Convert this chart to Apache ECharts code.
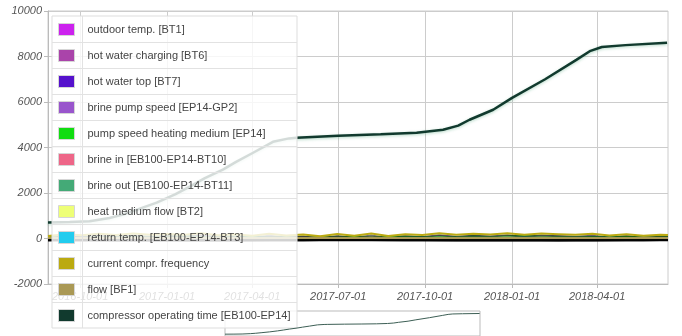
<!DOCTYPE html>
<html>
<head>
<meta charset="utf-8">
<script src="https://cdn.jsdelivr.net/npm/echarts@6/dist/echarts.min.js"></script>
<style>
html,body{margin:0;padding:0;background:#fff;}
#chart{width:682px;height:336px;}
</style>
</head>
<body>
<div id="chart"></div>
<script>
// ---- data ----
const seriesNames = [
  'outdoor temp. [BT1]',
  'hot water charging [BT6]',
  'hot water top [BT7]',
  'brine pump speed [EP14-GP2]',
  'pump speed heating medium [EP14]',
  'brine in [EB100-EP14-BT10]',
  'brine out [EB100-EP14-BT11]',
  'heat medium flow [BT2]',
  'return temp. [EB100-EP14-BT3]',
  'current compr. frequency',
  'flow [BF1]',
  'compressor operating time [EB100-EP14]'
];
const seriesColors = ['#cc22ee','#aa44aa','#5511cc','#9955cc','#11dd11','#ee6688','#44aa77','#eeff77','#22ccee','#bbaa11','#aa9955','#113a2e'];

const xTickLabels = ['2016-10-01','2017-01-01','2017-04-01','2017-07-01','2017-10-01','2018-01-01','2018-04-01'];

const compDates = ['2016-08-28','2016-09-20','2016-10-11','2016-11-01','2016-11-15','2016-12-01','2016-12-21','2017-01-10','2017-01-25','2017-02-10','2017-03-01','2017-03-15','2017-04-02','2017-04-23','2017-05-10','2017-05-18','2017-07-01','2017-08-15','2017-09-22','2017-10-20','2017-11-05','2017-11-17','2017-12-12','2018-01-01','2018-02-05','2018-03-10','2018-03-25','2018-04-06','2018-05-01','2018-06-14'];
const compressorTime = [700,720,760,900,1050,1280,1580,1950,2280,2650,3030,3370,3770,4250,4400,4430,4520,4580,4650,4780,4960,5220,5660,6180,7000,7850,8250,8420,8500,8600];

const sensorDates = ['2016-08-28','2016-09-15','2016-10-03','2016-10-21','2016-11-08','2016-11-26','2016-12-14','2017-01-01','2017-01-19','2017-02-06','2017-02-24','2017-03-14','2017-04-01','2017-04-19','2017-05-07','2017-05-25','2017-06-12','2017-06-30','2017-07-18','2017-08-05','2017-08-23','2017-09-10','2017-09-28','2017-10-16','2017-11-03','2017-11-21','2017-12-09','2017-12-27','2018-01-14','2018-02-01','2018-02-19','2018-03-09','2018-03-27','2018-04-14','2018-05-02','2018-05-20','2018-06-07','2018-06-15'];
const outdoorTemp = [16,14,11,8,4,2,0,-3,-5,-1,2,4,7,9,13,16,18,19,20,19,17,14,11,9,5,2,1,-1,0,-3,-6,1,4,8,12,15,17,18];
const hotWaterCharging = [48,46,50,47,49,51,45,48,50,47,52,49,46,50,48,47,51,49,46,48,50,47,49,52,48,46,50,49,47,51,48,50,46,49,51,47,48,50];
const hotWaterTop = [52,50,54,51,53,55,50,52,54,51,56,53,50,54,52,51,55,53,50,52,54,51,53,56,52,50,54,53,51,55,52,54,50,53,55,51,52,54];
const brinePumpSpeed = [60,85,40,95,70,100,55,90,80,100,65,75,95,50,70,45,80,60,90,55,75,85,50,95,70,100,80,90,100,85,95,70,80,60,90,50,75,65];
const pumpSpeedHeating = [45,70,35,80,55,85,60,75,90,70,50,80,65,40,55,30,60,45,70,40,65,75,50,80,60,90,70,85,95,75,80,60,70,50,75,40,60,55];
const brineIn = [8,7,6,5,4,3,2,1,0,1,2,3,4,6,7,8,9,10,10,9,8,7,6,5,4,3,2,1,0,-1,0,1,3,5,7,8,9,9];
const brineOut = [5,4,3,2,1,0,-1,-2,-3,-2,-1,0,1,3,4,5,6,7,7,6,5,4,3,2,1,0,-1,-2,-3,-4,-3,-2,0,2,4,5,6,6];
const heatMediumFlow = [30,32,35,38,40,42,44,46,45,43,41,39,36,34,32,30,29,28,28,29,31,33,35,38,40,43,45,47,48,46,44,41,38,35,32,30,29,29];
const returnTemp = [26,27,29,31,33,34,36,37,36,35,33,32,30,28,27,26,25,24,24,25,26,28,29,31,33,35,36,38,39,37,36,34,31,29,27,26,25,25];
const comprFrequency = [110,190,140,210,150,220,170,200,160,230,140,190,120,210,130,180,100,200,120,220,110,190,150,230,160,210,180,230,170,220,190,160,210,130,190,120,170,150];
const flowBF1 = [20,25,18,28,22,30,24,27,21,29,23,26,19,27,22,25,17,26,20,28,18,24,22,29,23,27,25,30,24,28,26,21,27,19,25,18,22,21];

const xMinDate = '2016-08-28';
const xMaxDate = '2018-06-15';

// ---- build ----
function ts(s){ return new Date(s + 'T00:00:00').getTime(); }
function pairs(dates, vals){ return dates.map((d,i)=>[ts(d), vals[i]]); }
function pad(n){ return n < 10 ? '0' + n : '' + n; }
function fmtDate(v){ const d = new Date(v); return d.getFullYear() + '-' + pad(d.getMonth()+1) + '-' + pad(d.getDate()); }

const sensorValues = [outdoorTemp, hotWaterCharging, hotWaterTop, brinePumpSpeed, pumpSpeedHeating, brineIn, brineOut, heatMediumFlow, returnTemp, comprFrequency, flowBF1];

const labelFont = {fontFamily:'Liberation Sans', fontStyle:'italic', fontSize:11, color:'#555'};

const series = [];
sensorValues.forEach((vals, i) => {
  series.push({
    name: seriesNames[i], type:'line', xAxisIndex:0, yAxisIndex:0,
    data: pairs(sensorDates, vals), showSymbol:false, symbol:'none',
    lineStyle:{width:2, color: seriesColors[i], shadowColor:'rgba(0,0,0,0.55)', shadowBlur:0, shadowOffsetY:2},
    itemStyle:{color: seriesColors[i]},
    z:2
  });
});
series.push({
  name: seriesNames[11], type:'line', xAxisIndex:0, yAxisIndex:0,
  data: pairs(compDates, compressorTime), showSymbol:false, symbol:'none',
  lineStyle:{width:2.5, color: seriesColors[11], shadowColor:'rgba(90,170,130,0.45)', shadowBlur:3, shadowOffsetY:1},
  itemStyle:{color: seriesColors[11]}, z:2
});
series.push({
  name: 'range', type:'line', xAxisIndex:1, yAxisIndex:1,
  data: pairs(compDates, compressorTime), showSymbol:false, symbol:'none',
  lineStyle:{width:1, color:'#3d5f55'}, silent:true
});

// legend table decoration
const legLeft = 52, legTop = 16, legW = 245, rowH = 26, rows = 12;
const deco = [{
  type:'rect', shape:{x:legLeft, y:legTop, width:legW, height:rowH*rows},
  style:{fill:'rgba(255,255,255,0.82)', stroke:'#dddddd', lineWidth:1}, z:3
}];
for (let r = 1; r < rows; r++) {
  deco.push({type:'line', shape:{x1:legLeft, y1:legTop + r*rowH + 0.5, x2:legLeft+legW, y2:legTop + r*rowH + 0.5}, style:{stroke:'#e2e2e2', lineWidth:1}, z:3});
}
deco.push({type:'line', shape:{x1:82.5, y1:legTop, x2:82.5, y2:legTop+rowH*rows}, style:{stroke:'#e2e2e2', lineWidth:1}, z:3});

const chart = echarts.init(document.getElementById('chart'), null, {renderer:'canvas'});
chart.setOption({
  animation:false,
  backgroundColor:'#fff',
  grid:[
    {left:48, right:14, top:11, bottom:52, show:true, borderColor:'#cccccc', borderWidth:1, backgroundColor:'transparent'},
    {left:225, top:311, width:255, height:45, show:true, borderColor:'#bbbbbb', borderWidth:1, backgroundColor:'#fff'}
  ],
  xAxis:[
    {type:'value', gridIndex:0, min:ts(xMinDate), max:ts(xMaxDate),
     axisLine:{show:true, onZero:false, lineStyle:{color:'#bbbbbb'}},
     axisTick:{show:true, length:4, lineStyle:{color:'#bbbbbb'}, customValues: xTickLabels.map(ts)},
     axisLabel:Object.assign({customValues: xTickLabels.map(ts), formatter:(v)=>fmtDate(v), margin:7}, labelFont),
     splitLine:{show:true, lineStyle:{color:'#cccccc', width:1}}
    },
    {type:'value', gridIndex:1, min:ts(xMinDate), max:ts(xMaxDate), show:false}
  ],
  yAxis:[
    {type:'value', gridIndex:0, min:-2000, max:10000, interval:2000,
     axisLine:{show:true, lineStyle:{color:'#bbbbbb'}},
     axisTick:{show:true, length:4, lineStyle:{color:'#bbbbbb'}},
     axisLabel:Object.assign({margin:6, formatter:(v)=>String(v)}, labelFont),
     splitLine:{show:true, lineStyle:{color:'#cccccc', width:1}}
    },
    {type:'value', gridIndex:1, min:0, max:9550, show:false}
  ],
  legend:{
    orient:'vertical', left:legLeft, top:legTop, height:318, padding:[7,6,0,6],
    itemWidth:16, itemHeight:12, itemGap:13, icon:'rect', selectedMode:false,
    data: seriesNames,
    itemStyle:{borderColor:'#d6d6d6', borderWidth:1},
    textStyle:{fontFamily:'Liberation Sans', fontSize:11, lineHeight:12, color:'#444', padding:[0,0,0,8]},
    z:5
  },
  graphic: deco,
  series: series
});
</script>
</body>
</html>
